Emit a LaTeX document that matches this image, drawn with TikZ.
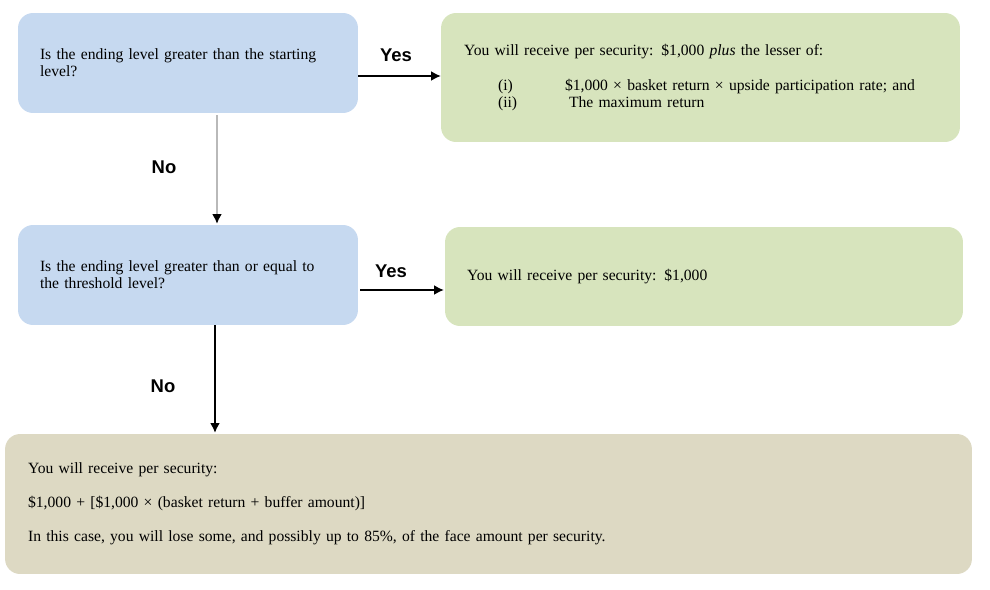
\documentclass[tikz,border=0pt]{standalone}
\usepackage{fontspec}
\setmainfont{Liberation Serif}
\newfontfamily\labelfont{Liberation Sans}
\usetikzlibrary{arrows.meta}

\definecolor{askblue}{RGB}{198,217,240}
\definecolor{paygreen}{RGB}{215,228,189}
\definecolor{losstan}{RGB}{221,217,195}
\definecolor{linegray}{RGB}{185,185,185}

\begin{document}
\begin{tikzpicture}[x=0.02cm, y=-0.02cm,
  >={Latex[length=5.5pt,width=5.5pt]},
  box/.style={rounded corners=0.3cm, inner ysep=0pt, align=left,
    font=\fontsize{8.9}{9.7}\selectfont},
  yesno/.style={font=\labelfont\bfseries\fontsize{10.5}{12}\selectfont},
  link/.style={->, line width=0.6pt}]

% Layout constants
\def\pad{0.44cm}   % text inset from box edge
\def\drop{0.26cm}  % horizontal arrows sit below box centre

\useasboundingbox (0,0) rectangle (990,589);

%% ---- QUESTION 1: ending level vs starting level ----------
\node[box, fill=askblue, inner xsep=\pad, text width=5.92cm,
  minimum height=2cm] (qstart) at (188,63)
  {Is the ending level greater than the starting\\ level?};

\node[box, fill=paygreen, inner xsep=0.46cm, text width=9.46cm,
  minimum height=2.58cm] (payup) at (700.5,77.5)
  {You will receive per security: \$1,000 \textit{plus} the lesser of:\\[10.2pt]
   \hspace*{0.68cm}\makebox[1.34cm][l]{(i)}\$1,000 × basket return × upside participation rate; and\\
   \hspace*{0.68cm}\makebox[1.42cm][l]{(ii)}The maximum return};

%% ---- QUESTION 2: ending level vs threshold level ---------
\node[box, fill=askblue, inner xsep=\pad, text width=5.92cm,
  minimum height=2cm] (qthresh) at (188,275)
  {Is the ending level greater than or equal to\\ the threshold level?};

\node[box, fill=paygreen, inner xsep=\pad, text width=9.48cm,
  minimum height=1.98cm] (payflat) at (704,276.5)
  {You will receive per security: \$1,000};

%% ---- OUTCOME: loss below the buffer ----------------------
\node[box, fill=losstan, inner xsep=0.46cm, text width=18.42cm,
  minimum height=2.8cm] (paydown) at (488.5,504)
  {You will receive per security:\\[9.6pt]
   \$1,000 + [\$1,000 × (basket return + buffer amount)]\\[9.6pt]
   In this case, you will lose some, and possibly up to 85\%, of the face amount per security.};

% Connectors
\coordinate (yesone) at ([yshift=-\drop]qstart.east);
\draw[link] (yesone) -- (yesone -| payup.west);
\coordinate (noone) at ([xshift=0.58cm,yshift=-0.04cm]qstart.south);
\draw[line width=0.6pt, draw=linegray,
  -{Latex[length=5.5pt,width=5.5pt,color=black]}]
  (noone) -- ([yshift=0.02cm]noone |- qthresh.north);

\coordinate (yestwo) at ([xshift=0.04cm,yshift=-0.3cm]qthresh.east);
\draw[link] (yestwo) -- ([xshift=-0.02cm]yestwo -| payflat.west);
\coordinate (notwo) at ([xshift=0.54cm]qthresh.south);
\draw[link] (notwo) -- ([yshift=0.02cm]notwo |- paydown.north);

% Branch labels
\node[yesno] (yesonelbl) at (396,55) {Yes};
\node[yesno] (noonelbl)  at (164,167) {No};
\node[yesno] (yestwolbl) at (391,271) {Yes};
\node[yesno] (notwolbl)  at (163,386) {No};

\end{tikzpicture}
\end{document}
